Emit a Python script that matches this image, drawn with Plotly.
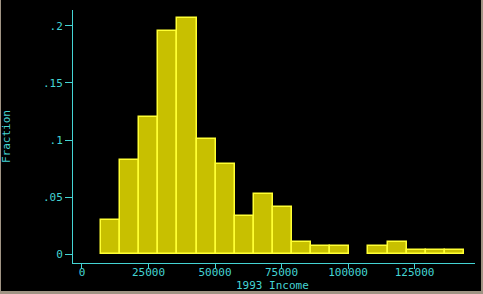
import plotly.graph_objects as go

# Histogram of 1993 income (fraction per bin)
bin_start = 7150
bin_width = 7180
fractions = [0.030, 0.0825, 0.120, 0.1955, 0.2067, 0.1007, 0.079, 0.0333,
             0.0525, 0.0411, 0.0105, 0.0070, 0.0070, 0.0, 0.0070, 0.0105,
             0.0035, 0.0035, 0.0035]
x_ticks = [0, 25000, 50000, 75000, 100000, 125000]
x_tick_labels = ["0", "25000", "50000", "75000", "100000", "125000"]
y_ticks = [0, 0.05, 0.1, 0.15, 0.2]
y_tick_labels = ["0", ".05", ".1", ".15", ".2"]

centers = [bin_start + (i + 0.5) * bin_width for i in range(len(fractions))]
line_widths = [1.5 if f > 0 else 0 for f in fractions]

CYAN = "#44d4d4"
FONT = "DejaVu Sans Mono"

fig = go.Figure()
fig.add_trace(go.Bar(
    x=centers, y=fractions, width=bin_width,
    marker=dict(color="#c8c000", line=dict(color="#ffff33", width=line_widths)),
    showlegend=False,
))

fig.update_layout(
    width=483, height=294,
    margin=dict(l=73, r=8, t=10, b=31),
    paper_bgcolor="black", plot_bgcolor="black",
    font=dict(family=FONT, size=11, color=CYAN),
    bargap=0,
    xaxis=dict(range=[-3380, 147740], tickvals=x_ticks, ticktext=x_tick_labels,
               showgrid=False, zeroline=False, showline=True, linecolor=CYAN,
               linewidth=1, ticks="outside", ticklen=5, tickcolor=CYAN,
               ticklabelstandoff=-6,
               tickfont=dict(family=FONT, size=11, color=CYAN)),
    yaxis=dict(range=[-0.0076, 0.2139], tickvals=y_ticks, ticktext=y_tick_labels,
               showgrid=False, zeroline=False, showline=True, linecolor=CYAN,
               linewidth=1, ticks="outside", ticklen=7, tickcolor=CYAN,
               tickfont=dict(family=FONT, size=11, color=CYAN)),
    annotations=[
        dict(text="Fraction", xref="paper", yref="paper", x=-0.1654, y=0.5,
             textangle=-90, showarrow=False, xanchor="center", yanchor="middle",
             font=dict(family=FONT, size=11, color=CYAN)),
        dict(text="1993 Income", xref="paper", yref="paper", x=0.496, y=-0.087,
             showarrow=False, xanchor="center", yanchor="middle",
             font=dict(family=FONT, size=11, color=CYAN)),
    ],
    shapes=[
        # window frame (gray) on left, right and bottom
        dict(type="rect", xref="paper", yref="paper",
             x0=(0 - 73) / 402, x1=(1 - 73) / 402, y0=(263 - 294) / 253, y1=(263 - 0) / 253,
             fillcolor="#a09484", line=dict(width=0), layer="above"),
        dict(type="rect", xref="paper", yref="paper",
             x0=(481 - 73) / 402, x1=(483 - 73) / 402, y0=(263 - 294) / 253, y1=(263 - 0) / 253,
             fillcolor="#a09484", line=dict(width=0), layer="above"),
        dict(type="rect", xref="paper", yref="paper",
             x0=(0 - 73) / 402, x1=(483 - 73) / 402, y0=(263 - 294) / 253, y1=(263 - 291) / 253,
             fillcolor="#a09484", line=dict(width=0), layer="above"),
    ],
)

fig.write_html("out.html")
